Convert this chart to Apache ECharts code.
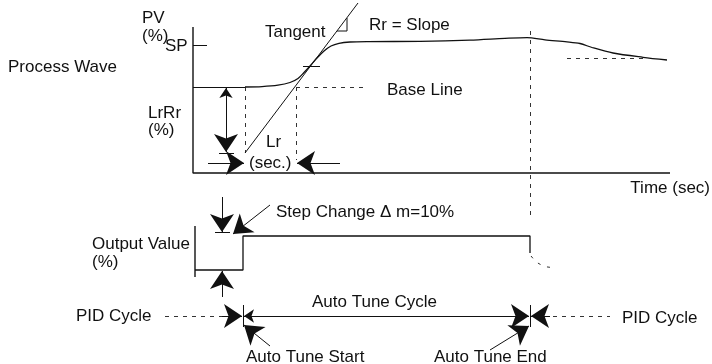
<!DOCTYPE html>
<html>
<head>
<meta charset="utf-8">
<script src="https://cdn.jsdelivr.net/npm/echarts@6/dist/echarts.min.js"></script>
<style>
  html, body { margin: 0; padding: 0; background: #fff; }
  #main { width: 712px; height: 364px; }
</style>
</head>
<body>
<div id="main"></div>
<script>
// diagram space: x = time position, y = level (top down), same span as the canvas
const processWave = [[245,87],[262,86.6],[278,85.2],[290,82.5],[298,78.5],[304,72.5],[310,66],[317,58],[324,51],[331,46],[339,43.3],[350,42],[368,41.6],[420,41.4],[470,40.2],[505,38.4],[527,37.6],[545,39.8],[567,41.8],[580,43.5],[592,47.5],[613,53],[643,57.3],[667,60]];
const outputWave = [[195,270],[243,270],[243,236],[530,236],[530,253]];
const outputTail = [[531,256],[536,262],[544,266.5],[555,268]];
const tangent = [[245,153],[358,3]];
const slopeMark = [[337,31],[347,31],[347,18]];
const pvAxis = [[193,27],[193,173],[670,173]];
const outAxis = [[195,226],[195,277]];
const solidSegs = [
  [[193,45],[207,45]],     // SP tick
  [[193,87],[245,87]],     // base level
  [[303,66],[320,66]],     // inflection tick
  [[219,153],[234,153]],   // LrRr foot
  [[215,232],[230,232]],   // step tick
  [[243,305],[243,327]],   // start tick
  [[530,305],[530,327]]    // end tick
];
const dashSegs = [
  [[245,87],[245,153]],
  [[296,87],[296,160]],
  [[296,87],[364,87]],
  [[567,58],[643,58]],
  [[530,31],[530,220]],
  [[165,316],[226,316]],
  [[553,316],[610,316]]
];
const oneArrows = [
  [[208,163],[244,163]],
  [[340,163],[297,163]],
  [[222,197],[222,232]],
  [[222,297],[222,271]],
  [[270,205],[233,234]],
  [[222,316],[242,316]],
  [[550,316],[531,316]],
  [[270,346],[244,325]],
  [[490,350],[529,326]]
];
const twoArrows = [
  [[226,88],[226,152]],
  [[244,316],[529,316]]
];

const ink = '#111';
const font = 'Liberation Sans, Arial, sans-serif';

function seg(list) {
  return list.map(function (c) { return { coords: c }; });
}
function txt(text, x, y, align) {
  return {
    type: 'text', x: x, y: y, silent: true,
    style: { text: text, fill: ink, font: '17px ' + font, textAlign: align || 'left', textVerticalAlign: 'middle' }
  };
}

const chart = echarts.init(document.getElementById('main'));
chart.setOption({
  animation: false,
  backgroundColor: '#fff',
  grid: { left: 0, right: 0, top: 0, bottom: 0 },
  xAxis: { type: 'value', min: 0, max: 712, show: false },
  yAxis: { type: 'value', min: 0, max: 364, inverse: true, show: false },
  series: [
    { type: 'line', data: pvAxis, showSymbol: false, lineStyle: { color: ink, width: 1.4 } },
    { type: 'line', data: outAxis, showSymbol: false, lineStyle: { color: ink, width: 1.4 } },
    { type: 'line', data: processWave, smooth: 0.3, showSymbol: false, lineStyle: { color: ink, width: 1.3 } },
    { type: 'line', data: tangent, showSymbol: false, lineStyle: { color: ink, width: 1 } },
    { type: 'line', data: slopeMark, showSymbol: false, lineStyle: { color: ink, width: 1 } },
    { type: 'line', data: outputWave, showSymbol: false, lineStyle: { color: ink, width: 1.3 } },
    { type: 'line', data: outputTail, showSymbol: false, lineStyle: { color: '#333', width: 1, type: [3, 7] } },
    { type: 'lines', coordinateSystem: 'cartesian2d', data: seg(solidSegs), symbol: 'none',
      lineStyle: { color: ink, width: 1, opacity: 1 } },
    { type: 'lines', coordinateSystem: 'cartesian2d', data: seg(dashSegs), symbol: 'none',
      lineStyle: { color: '#333', width: 1, type: [4, 5], opacity: 1 } },
    { type: 'lines', coordinateSystem: 'cartesian2d', data: seg(oneArrows), symbol: ['none', 'arrow'],
      symbolSize: [10, 18], symbolOffset: [0, 9],
      lineStyle: { color: ink, width: 1, opacity: 1 }, itemStyle: { color: ink } },
    { type: 'lines', coordinateSystem: 'cartesian2d', data: seg(twoArrows), symbol: ['arrow', 'arrow'],
      symbolSize: [10, 18], symbolOffset: [0, 9],
      lineStyle: { color: ink, width: 1, opacity: 1 }, itemStyle: { color: ink } }
  ],
  graphic: [
    txt('Process Wave', 8, 67),
    txt('PV', 142, 18),
    txt('(%)', 142, 36),
    txt('SP', 165, 46),
    txt('Tangent', 265, 32),
    txt('Rr = Slope', 369, 25),
    txt('Base Line', 387, 90),
    txt('LrRr', 148, 113),
    txt('(%)', 148, 130),
    txt('Lr', 266, 142),
    txt('(sec.)', 249, 163),
    txt('Time (sec)', 710, 188, 'right'),
    txt('Step Change \u0394 m=10%', 276, 212),
    txt('Output Value', 92, 244),
    txt('(%)', 92, 262),
    txt('PID Cycle', 76, 316),
    txt('Auto Tune Cycle', 312, 302),
    txt('PID Cycle', 622, 318),
    txt('Auto Tune Start', 246, 357),
    txt('Auto Tune End', 434, 357)
  ]
});
</script>
</body>
</html>
